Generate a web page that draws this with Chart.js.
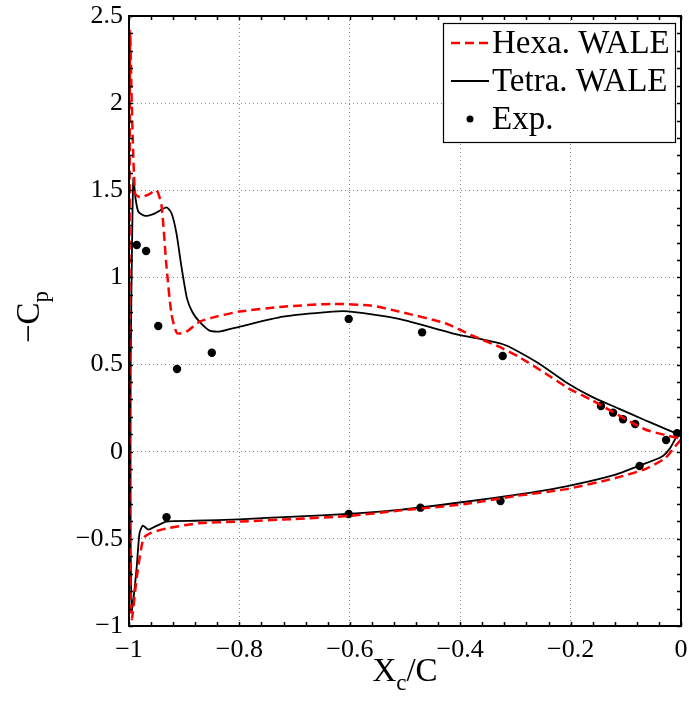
<!DOCTYPE html>
<html>
<head>
<meta charset="utf-8">
<script src="https://cdn.jsdelivr.net/npm/chart.js@4.4.1/dist/chart.umd.min.js"></script>
<style>
  html, body { margin: 0; padding: 0; background: #fff; }
  canvas { display: block; }
</style>
</head>
<body>
<canvas id="cpChart" width="689" height="706"></canvas>
<script>
// Hexa. WALE (red dashed): lower surface TE -> LE, then upper surface LE -> TE
const hexaX = [0.000, -0.011, -0.029, -0.066, -0.120, -0.210, -0.300, -0.390, -0.511, -0.603,
  -0.700, -0.800, -0.872, -0.932, -0.962, -0.974, -0.986, -0.995, -0.999, -0.999,
  -0.998, -0.995, -0.989, -0.980, -0.965, -0.950, -0.941, -0.932, -0.923, -0.913,
  -0.896, -0.872, -0.842, -0.800, -0.721, -0.631, -0.560, -0.511, -0.427, -0.381,
  -0.330, -0.294, -0.246, -0.204, -0.162, -0.114, -0.066, -0.029, -0.002];
const hexaY = [0.070, 0.029, -0.038, -0.101, -0.152, -0.216, -0.254, -0.300, -0.338, -0.369,
  -0.386, -0.401, -0.410, -0.440, -0.468, -0.497, -0.720, -0.960, -0.500, 1.000,
  2.410, 2.000, 1.480, 1.460, 1.475, 1.500, 1.410, 1.060, 0.790, 0.680,
  0.689, 0.746, 0.775, 0.804, 0.832, 0.848, 0.838, 0.804, 0.737, 0.670,
  0.603, 0.545, 0.450, 0.364, 0.297, 0.211, 0.129, 0.096, 0.077];

// Tetra. WALE (black solid)
const tetraX = [0.000, -0.008, -0.020, -0.035, -0.075, -0.120, -0.210, -0.300, -0.390, -0.511,
  -0.603, -0.700, -0.800, -0.880, -0.932, -0.953, -0.965, -0.975, -0.981, -0.986,
  -0.992, -0.995, -0.997, -0.997, -0.994, -0.992, -0.988, -0.983, -0.971, -0.953,
  -0.932, -0.923, -0.914, -0.905, -0.895, -0.885, -0.872, -0.854, -0.836, -0.800,
  -0.721, -0.631, -0.603, -0.511, -0.402, -0.360, -0.324, -0.300, -0.258, -0.210,
  -0.162, -0.114, -0.066, -0.011, 0.000];
const tetraY = [0.110, 0.086, 0.019, -0.029, -0.080, -0.133, -0.200, -0.248, -0.287, -0.334,
  -0.357, -0.372, -0.388, -0.396, -0.401, -0.430, -0.447, -0.424, -0.468, -0.660,
  -0.850, -0.908, -0.500, 0.500, 1.300, 1.569, 1.450, 1.377, 1.353, 1.368,
  1.402, 1.368, 1.253, 1.062, 0.880, 0.800, 0.745, 0.695, 0.689, 0.717,
  0.775, 0.804, 0.805, 0.762, 0.670, 0.645, 0.618, 0.584, 0.507, 0.402,
  0.316, 0.249, 0.182, 0.109, 0.110];

// Exp. points
const expX = [-0.986, -0.969, -0.947, -0.913, -0.850, -0.602, -0.469, -0.323, -0.145, -0.123,
  -0.105, -0.083, -0.027, -0.007, -0.075, -0.327, -0.472, -0.602, -0.932];
const expY = [1.186, 1.152, 0.721, 0.475, 0.568, 0.762, 0.685, 0.549, 0.262, 0.224,
  0.186, 0.159, 0.067, 0.106, -0.082, -0.283, -0.321, -0.357, -0.376];

const xTicks = [-1, -0.8, -0.6, -0.4, -0.2, 0];
const yTicks = [-1, -0.5, 0, 0.5, 1, 1.5, 2, 2.5];

const SERIF = '"Liberation Serif", "DejaVu Serif", serif';
const toPts = (xs, ys) => xs.map((x, i) => ({ x: x, y: ys[i] }));
const fmt = (v) => {
  const s = Math.abs(v) < 1e-9 ? '0' : String(+v.toFixed(2));
  return s.replace('-', '\u2212');
};

// box, inward ticks on all sides, axis titles and legend
const framePlugin = {
  id: 'frame',
  afterDraw(chart) {
    const { ctx, chartArea: a, scales } = chart;
    const xs = scales.x, ys = scales.y;
    ctx.save();
    ctx.strokeStyle = '#000';
    ctx.lineWidth = 1.5;
    ctx.beginPath();
    for (let i = 0; i <= 25; i++) {
      const px = Math.round(xs.getPixelForValue(-1 + i * 0.04)) + 0.5;
      ctx.moveTo(px, a.bottom); ctx.lineTo(px, a.bottom - 4);
      ctx.moveTo(px, a.top); ctx.lineTo(px, a.top + 4);
    }
    for (let i = 0; i <= 35; i++) {
      const py = Math.round(ys.getPixelForValue(-1 + i * 0.1)) + 0.5;
      ctx.moveTo(a.left, py); ctx.lineTo(a.left + 4, py);
      ctx.moveTo(a.right, py); ctx.lineTo(a.right - 4, py);
    }
    ctx.stroke();
    ctx.lineWidth = 2;
    ctx.strokeRect(a.left, a.top, a.right - a.left, a.bottom - a.top);

    // x title: X_c/C
    ctx.fillStyle = '#000';
    ctx.textBaseline = 'alphabetic';
    const big = '33px ' + SERIF, small = '23px ' + SERIF;
    ctx.font = big;
    const wX = ctx.measureText('X').width, wC = ctx.measureText('/C').width;
    ctx.font = small;
    const wc = ctx.measureText('c').width;
    let tx = (a.left + a.right) / 2 - (wX + wc + wC) / 2;
    const ty = 681;
    ctx.font = big; ctx.fillText('X', tx, ty);
    ctx.font = small; ctx.fillText('c', tx + wX, ty + 9);
    ctx.font = big; ctx.fillText('/C', tx + wX + wc, ty);

    // y title: -C_p
    ctx.save();
    ctx.translate(39, 317);
    ctx.rotate(-Math.PI / 2);
    ctx.font = big;
    const wm = ctx.measureText('\u2212C').width;
    ctx.font = small;
    const wp = ctx.measureText('p').width;
    const sx = -(wm + wp) / 2;
    ctx.font = big; ctx.fillText('\u2212C', sx, 0);
    ctx.font = small; ctx.fillText('p', sx + wm, 9);
    ctx.restore();

    // legend
    const lx = 443, ly = 23, lw = 232, lh = 119;
    ctx.fillStyle = '#fff';
    ctx.fillRect(lx, ly, lw, lh);
    ctx.lineWidth = 1.2;
    ctx.strokeStyle = '#000';
    ctx.strokeRect(lx + 0.5, ly + 0.5, lw, lh);
    const rows = [43, 81, 119];
    chart.data.datasets.forEach((ds, i) => {
      const ry = rows[i];
      ctx.save();
      if (ds.showLine) {
        ctx.strokeStyle = ds.borderColor;
        ctx.lineWidth = ds.borderWidth;
        ctx.setLineDash(ds.borderDash || []);
        ctx.beginPath();
        ctx.moveTo(451, ry); ctx.lineTo(489, ry);
        ctx.stroke();
      } else {
        ctx.fillStyle = ds.pointBackgroundColor;
        ctx.beginPath();
        ctx.arc(470, ry, 3.5, 0, Math.PI * 2);
        ctx.fill();
      }
      ctx.restore();
      ctx.fillStyle = '#000';
      ctx.font = big;
      ctx.textBaseline = 'middle';
      ctx.fillText(ds.label, 492, ry + 1);
    });
    ctx.restore();
  }
};

new Chart(document.getElementById('cpChart').getContext('2d'), {
  type: 'scatter',
  data: {
    datasets: [
      {
        label: 'Hexa. WALE',
        data: toPts(hexaX, hexaY),
        showLine: true,
        borderColor: '#ff0000',
        borderWidth: 2.5,
        borderDash: [9, 5],
        pointRadius: 0,
        tension: 0.2
      },
      {
        label: 'Tetra. WALE',
        data: toPts(tetraX, tetraY),
        showLine: true,
        borderColor: '#000000',
        borderWidth: 1.8,
        pointRadius: 0,
        tension: 0.2
      },
      {
        label: 'Exp.',
        data: toPts(expX, expY),
        showLine: false,
        pointRadius: 4.2,
        pointBackgroundColor: '#000000',
        pointBorderWidth: 0
      }
    ]
  },
  options: {
    responsive: false,
    animation: false,
    layout: { padding: { top: 16, right: 8, left: 0, bottom: 0 } },
    plugins: { legend: { display: false }, tooltip: { enabled: false } },
    scales: {
      x: {
        type: 'linear',
        min: -1,
        max: 0,
        afterFit: (s) => { s.height = 80; s.paddingRight = 0; s.paddingLeft = 0; },
        afterBuildTicks: (s) => { s.ticks = xTicks.map(v => ({ value: v })); },
        grid: { color: '#8a8a8a', lineWidth: 1, drawTicks: false },
        border: { display: false, dash: [1, 3] },
        ticks: {
          padding: 9,
          color: '#000',
          font: { family: SERIF, size: 26 },
          maxRotation: 0,
          callback: (v) => fmt(v)
        }
      },
      y: {
        type: 'linear',
        min: -1,
        max: 2.5,
        afterFit: (s) => { s.width = 129; s.paddingTop = 0; s.paddingBottom = 0; },
        afterBuildTicks: (s) => { s.ticks = yTicks.map(v => ({ value: v })); },
        grid: { color: '#8a8a8a', lineWidth: 1, drawTicks: false },
        border: { display: false, dash: [1, 3] },
        ticks: {
          padding: 6,
          color: '#000',
          font: { family: SERIF, size: 26 },
          callback: (v) => fmt(v)
        }
      }
    }
  },
  plugins: [framePlugin]
});
</script>
</body>
</html>
